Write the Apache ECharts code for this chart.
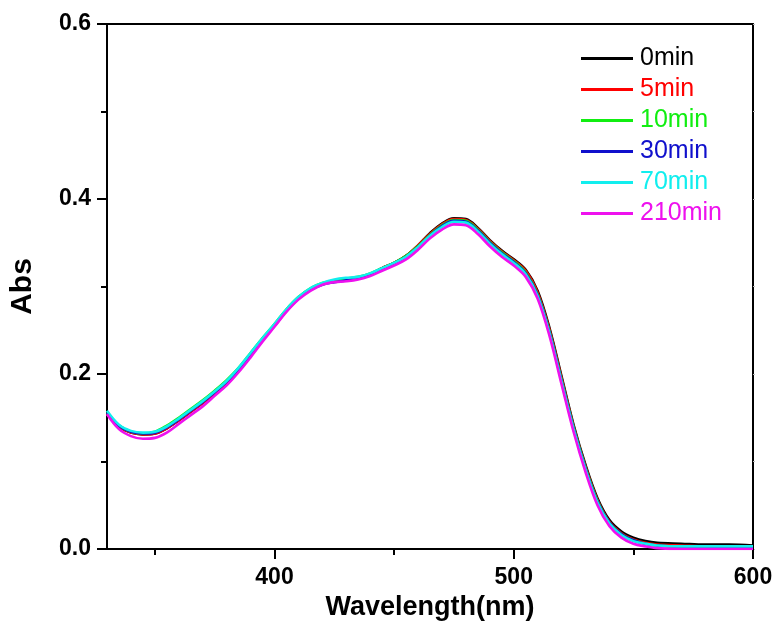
<!DOCTYPE html>
<html>
<head>
<meta charset="utf-8">
<script src="https://cdn.jsdelivr.net/npm/echarts@6/dist/echarts.min.js"></script>
<style>html,body{margin:0;padding:0;background:#fff;}#c{width:777px;height:623px;}</style>
</head>
<body>
<div id="c"></div>
<script>
const wavelengths = [330,335,340,345,350,355,360,365,370,375,380,385,390,395,400,405,410,415,420,425,430,435,440,445,450,455,460,465,470,475,480,485,490,495,500,505,510,515,520,525,530,535,540,545,550,555,560,570,580,590,600];
const seriesNames = ['0min','5min','10min','30min','70min','210min'];
const seriesColors = ['#000000','#ff0000','#11ee11','#1010cc','#11eeee','#ee11ee'];
const abs0 = [0.155,0.140,0.133,0.131,0.132,0.138,0.147,0.157,0.167,0.178,0.190,0.205,0.222,0.240,0.256,0.273,0.287,0.297,0.303,0.306,0.308,0.310,0.314,0.321,0.327,0.335,0.347,0.361,0.372,0.378,0.377,0.367,0.353,0.341,0.331,0.319,0.295,0.252,0.197,0.142,0.096,0.058,0.033,0.020,0.013,0.009,0.007,0.006,0.005,0.005,0.004];
const abs5 = [0.155,0.140,0.133,0.131,0.132,0.138,0.147,0.157,0.167,0.178,0.190,0.205,0.222,0.240,0.256,0.273,0.287,0.297,0.303,0.306,0.308,0.310,0.314,0.321,0.327,0.335,0.347,0.360,0.371,0.377,0.376,0.366,0.352,0.340,0.330,0.318,0.293,0.250,0.195,0.140,0.094,0.056,0.031,0.018,0.011,0.007,0.005,0.004,0.003,0.003,0.003];
const abs10 = [0.156,0.141,0.134,0.132,0.134,0.141,0.150,0.160,0.170,0.181,0.193,0.207,0.224,0.241,0.257,0.274,0.288,0.298,0.304,0.307,0.309,0.311,0.315,0.321,0.327,0.335,0.346,0.359,0.370,0.376,0.375,0.365,0.351,0.339,0.329,0.316,0.291,0.248,0.193,0.139,0.093,0.055,0.030,0.017,0.010,0.006,0.004,0.003,0.003,0.002,0.002];
const abs30 = [0.156,0.141,0.134,0.132,0.133,0.139,0.148,0.158,0.168,0.179,0.191,0.205,0.222,0.239,0.255,0.272,0.286,0.296,0.302,0.305,0.307,0.309,0.313,0.320,0.326,0.334,0.345,0.358,0.369,0.375,0.374,0.364,0.350,0.338,0.328,0.315,0.290,0.247,0.192,0.138,0.092,0.054,0.030,0.017,0.010,0.006,0.004,0.003,0.003,0.002,0.002];
const abs70 = [0.158,0.142,0.135,0.133,0.134,0.140,0.149,0.159,0.169,0.180,0.192,0.207,0.224,0.241,0.257,0.274,0.288,0.298,0.304,0.308,0.310,0.311,0.315,0.321,0.327,0.334,0.345,0.358,0.368,0.374,0.373,0.363,0.349,0.337,0.327,0.314,0.289,0.246,0.191,0.137,0.091,0.053,0.029,0.016,0.009,0.006,0.004,0.003,0.003,0.003,0.003];
const abs210 = [0.154,0.137,0.129,0.126,0.127,0.133,0.143,0.153,0.163,0.175,0.187,0.202,0.219,0.237,0.254,0.271,0.285,0.295,0.302,0.305,0.306,0.308,0.312,0.318,0.324,0.331,0.342,0.355,0.365,0.371,0.370,0.360,0.346,0.334,0.324,0.311,0.286,0.243,0.188,0.134,0.088,0.050,0.026,0.013,0.006,0.003,0.001,0.000,0.000,0.000,0.000];
const xMajorTicks = [400,500,600];
const xMinorTicks = [350,450,550];
const allAbs = [abs0,abs5,abs10,abs30,abs70,abs210];

const FONT = "'Liberation Sans', Arial, sans-serif";
const chart = echarts.init(document.getElementById('c'), null, {renderer:'canvas'});
const axisLine = {show:true, lineStyle:{color:'#000', width:2}};
chart.setOption({
  animation:false,
  backgroundColor:'#fff',
  grid:{left:107, right:24, top:24, bottom:74, containLabel:false, outerBoundsMode:'none'},
  legend:{
    orient:'vertical', left:581, top:46, padding:0,
    itemWidth:52, itemHeight:3, itemGap:6, icon:'rect',
    textStyle:{fontFamily:FONT, fontSize:25, lineHeight:25, padding:[0,0,0,2]},
    data: seriesNames.map((n,i)=>({name:n, textStyle:{color:seriesColors[i]}}))
  },
  xAxis:[
    {type:'value', position:'bottom', min:330, max:600,
     axisLine:axisLine,
     axisTick:{show:true, customValues:xMajorTicks, length:10, lineStyle:{color:'#000', width:2}},
     axisLabel:{customValues:xMajorTicks, margin:17, color:'#000', fontFamily:FONT, fontWeight:'bold', fontSize:23},
     splitLine:{show:false},
     name:'Wavelength(nm)', nameLocation:'middle', nameGap:42,
     nameTextStyle:{color:'#000', fontFamily:FONT, fontWeight:'bold', fontSize:27}},
    {type:'value', position:'bottom', min:330, max:600,
     axisLine:{show:false},
     axisTick:{show:true, customValues:xMinorTicks, length:6, lineStyle:{color:'#000', width:2}},
     axisLabel:{show:false}, splitLine:{show:false}},
    {type:'value', position:'top', min:330, max:600,
     axisLine:axisLine, axisTick:{show:false}, axisLabel:{show:false}, splitLine:{show:false}}
  ],
  yAxis:[
    {type:'value', position:'left', min:0, max:0.6, interval:0.2,
     axisLine:axisLine,
     axisTick:{show:true, length:10, lineStyle:{color:'#000', width:2}},
     minorTick:{show:true, splitNumber:2, length:6, lineStyle:{color:'#000', width:2}},
     axisLabel:{margin:16, color:'#000', fontFamily:FONT, fontWeight:'bold', fontSize:23, formatter:v=>v.toFixed(1)},
     splitLine:{show:false},
     name:'Abs', nameLocation:'middle', nameGap:69,
     nameTextStyle:{color:'#000', fontFamily:FONT, fontWeight:'bold', fontSize:30}},
    {type:'value', position:'right', min:0, max:0.6, interval:0.1,
     axisLine:axisLine,
     axisTick:{show:true, inside:false, length:2, lineStyle:{color:'#bbb', width:1}},
     axisLabel:{show:false}, splitLine:{show:false}}
  ],
  series: seriesNames.map((n,i)=>({
    name:n, type:'line', xAxisIndex:0, yAxisIndex:0,
    smooth:0.35, symbol:'none', showSymbol:false,
    itemStyle:{color:seriesColors[i]},
    lineStyle:{color:seriesColors[i], width:2.6},
    data: wavelengths.map((w,j)=>[w, allAbs[i][j]])
  }))
});
</script>
</body>
</html>
